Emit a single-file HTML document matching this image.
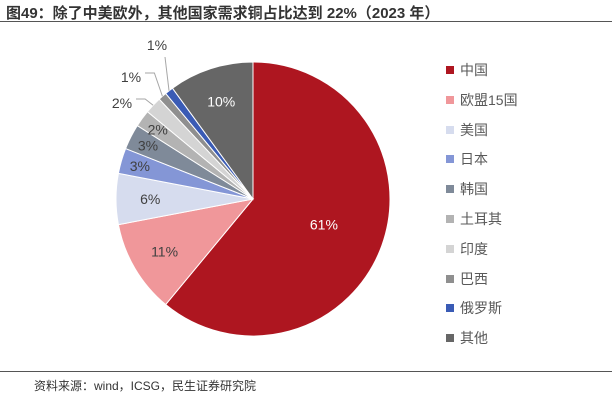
<!DOCTYPE html>
<html><head><meta charset="utf-8"><style>
body{margin:0;width:612px;height:401px;background:#fff;font-family:"Liberation Sans","Noto Sans CJK SC",sans-serif;overflow:hidden;position:relative}
.t{position:absolute;left:6px;top:2px;font-size:15px;font-weight:bold;color:#333}
.ln{position:absolute;left:0;width:612px;height:1px;background:#555}
.src{position:absolute;left:34px;top:377px;font-size:12px;color:#333}
.leg{position:absolute;left:446px;font-size:14px;color:#595959;height:20px;line-height:20px}
.leg i{display:inline-block;width:8px;height:8px;margin-right:6px;vertical-align:1px}
</style></head><body>
<div class="t">图49：除了中美欧外，其他国家需求铜占比达到 22%（2023 年）</div>
<div class="ln" style="top:21px"></div>
<svg id="pie" width="612" height="401" style="position:absolute;left:0;top:0"></svg>
<div id="legend"></div>
<div class="ln" style="top:371px"></div>
<div class="src">资料来源：wind，ICSG，民生证券研究院</div>
<script>
const categories=["中国","欧盟15国","美国","日本","韩国","土耳其","印度","巴西","俄罗斯","其他"];
const values=[61,11,6,3,3,2,2,1,1,10];
const labels=["61%","11%","6%","3%","3%","2%","2%","1%","1%","10%"];
const colors=["#AE1620","#F0979A","#D6DCEE","#8496D6","#7F8A99","#B3B3B3","#D4D4D4","#8F8F8F","#3A5BB5","#666666"];
const cx=253,cy=199,r=137;
const ns="http://www.w3.org/2000/svg";
const svg=document.getElementById('pie');
const total=values.reduce((a,b)=>a+b,0);
function pt(a,rr){return [cx+rr*Math.sin(a),cy-rr*Math.cos(a)];}
let a0=0;
const outside={6:[122,103],7:[131,77],8:[157,45]};
values.forEach((v,i)=>{
  const a1=a0+v/total*2*Math.PI;
  const p0=pt(a0,r),p1=pt(a1,r);
  const path=document.createElementNS(ns,'path');
  path.setAttribute('d',`M${cx},${cy}L${p0[0]},${p0[1]}A${r},${r} 0 ${a1-a0>Math.PI?1:0} 1 ${p1[0]},${p1[1]}Z`);
  path.setAttribute('fill',colors[i]);path.setAttribute('stroke','#fff');path.setAttribute('stroke-width','1');
  
  
  svg.appendChild(path);
  const am=(a0+a1)/2;
  const txt=document.createElementNS(ns,'text');
  let x,y,fill;
  if(outside[i]){
    const e=pt(am,r);
    x=outside[i][0];y=outside[i][1];fill='#404040';
    const l=document.createElementNS(ns,'polyline');
    let pts;
    if(i==8){pts=`${e[0]},${e[1]} ${x+8},${y+12}`;}
    else{const kx=x+14,ky=y-4;pts=`${e[0]},${e[1]} ${e[0]-8},${ky} ${kx},${ky}`;}
    l.setAttribute('points',pts);
    l.setAttribute('fill','none');l.setAttribute('stroke','#A6A6A6');
    
    
    svg.appendChild(l);
    txt.setAttribute('text-anchor','middle');
  } else {
    const rr=i==0?0.55*r:(i>=3&&i<=6?0.86*r:0.75*r);
    [x,y]=pt(am,rr);fill=(i==0||i==9)?'#fff':'#404040';
    txt.setAttribute('text-anchor','middle');
  }
  txt.setAttribute('x',x);txt.setAttribute('y',y+5);txt.setAttribute('fill',fill);txt.setAttribute('font-size','14');
  txt.textContent=labels[i];
  
  
  svg.appendChild(txt);
  a0=a1;
});
const lg=document.getElementById('legend');
categories.forEach((c,i)=>{
  const d=document.createElement('div');d.className='leg';d.style.top=(60+i*29.8)+'px';
  d.innerHTML=`<i style="background:${colors[i]}"></i>${c}`;
  
  
  lg.appendChild(d);
});
</script>
</body></html>
